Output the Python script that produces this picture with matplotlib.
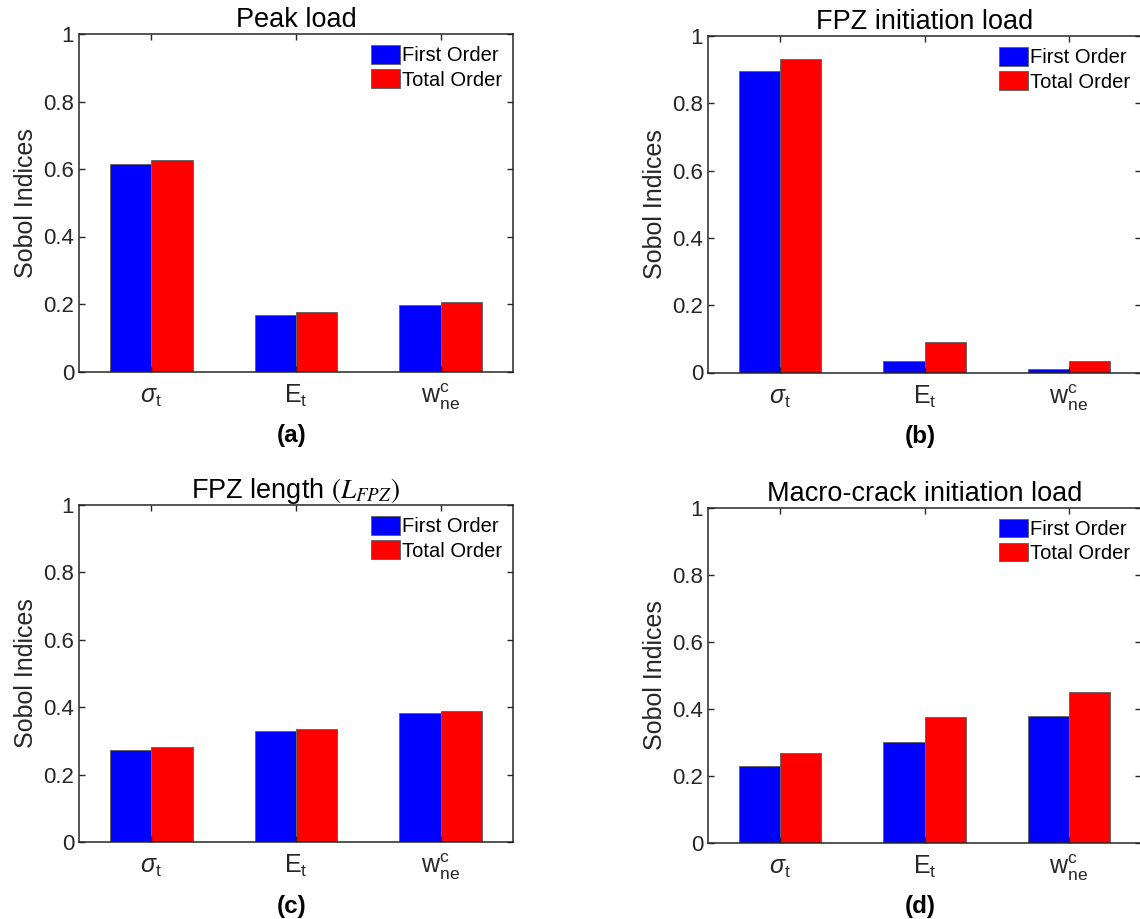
import numpy as np
import matplotlib
matplotlib.use('Agg')
import matplotlib.pyplot as plt

plt.rcParams['font.family'] = ['Liberation Sans', 'DejaVu Sans']
plt.rcParams['mathtext.fontset'] = 'custom'
plt.rcParams['mathtext.rm'] = 'Liberation Sans'
plt.rcParams['mathtext.it'] = 'Liberation Sans:italic'
plt.rcParams['mathtext.bf'] = 'Liberation Sans:bold'

# parametros (eje x)
params = [r'$\sigma_\mathrm{t}$', r'$\mathrm{E}_\mathrm{t}$', r'$\mathrm{w}_\mathrm{ne}^\mathrm{c}$']
series = ['First Order', 'Total Order']

# indices de Sobol
peak_first = [0.615, 0.168, 0.196]
peak_total = [0.627, 0.175, 0.205]
fpz_init_first = [0.896, 0.034, 0.010]
fpz_init_total = [0.932, 0.090, 0.035]
fpz_len_first = [0.274, 0.328, 0.382]
fpz_len_total = [0.282, 0.334, 0.390]
macro_first = [0.230, 0.302, 0.378]
macro_total = [0.268, 0.375, 0.451]

titles = ['Peak load', 'FPZ initiation load', r'FPZ length $(L_{FPZ})$', 'Macro-crack initiation load']
panels = ['(a)', '(b)', '(c)', '(d)']

W, H = 1140, 919
fig = plt.figure(figsize=(W / 100, H / 100), dpi=100)

# posiciones de los ejes en pixeles: izquierda, arriba, derecha, abajo
boxes = [(79, 34, 513, 371.5), (708, 36, 1141, 372.5),
         (79, 505, 513, 842), (708, 507.5, 1141, 843)]

datos = [(peak_first, peak_total), (fpz_init_first, fpz_init_total),
         (fpz_len_first, fpz_len_total), (macro_first, macro_total)]

gris = '#262626'
w = 0.285
x = np.arange(1, len(params) + 1)

for i, (first, total) in enumerate(datos):
    l, t, r, b = boxes[i]
    ax = fig.add_axes([l / W, 1 - b / H, (r - l) / W, (b - t) / H])
    ax.bar(x - w / 2, first, w, color=(0, 0, 1), edgecolor='0.4', linewidth=0.7, label=series[0])
    ax.bar(x + w / 2, total, w, color=(1, 0, 0), edgecolor='0.4', linewidth=0.7, label=series[1])

    ax.set_xlim(0.5, 3.5)
    ax.set_ylim(0, 1)
    ax.set_yticks([0, 0.2, 0.4, 0.6, 0.8, 1])
    ax.set_yticklabels(['0', '0.2', '0.4', '0.6', '0.8', '1'])
    ax.set_xticks(x)
    ax.set_xticklabels(params)
    ax.tick_params(direction='in', length=4, width=1, top=True, right=True,
                   colors=gris, labelsize=16, labelcolor=gris)
    ax.tick_params(axis='x', pad=22.5, labelsize=18)
    for lbl in ax.get_xticklabels():
        lbl.set_verticalalignment('baseline')
    for s in ax.spines.values():
        s.set_color(gris)
        s.set_linewidth(1.1)

    ax.set_ylabel('Sobol Indices', fontsize=18, color=gris, labelpad=4)
    if i == 2:
        ax.set_title(titles[i], fontsize=19.5, pad=5, math_fontfamily='stix')
    else:
        ax.set_title(titles[i], fontsize=19.5, pad=5)
    ax.text(0.49, -0.19, panels[i], transform=ax.transAxes, ha='center', va='center',
            fontsize=17.5, fontweight='bold')

    ax.legend(loc='upper right', frameon=False, fontsize=14.5, handlelength=1.45,
              handleheight=1.05, handletextpad=0.1, labelspacing=0.2,
              borderpad=0.3, borderaxespad=0.25)

fig.savefig('out.png', dpi=100)
